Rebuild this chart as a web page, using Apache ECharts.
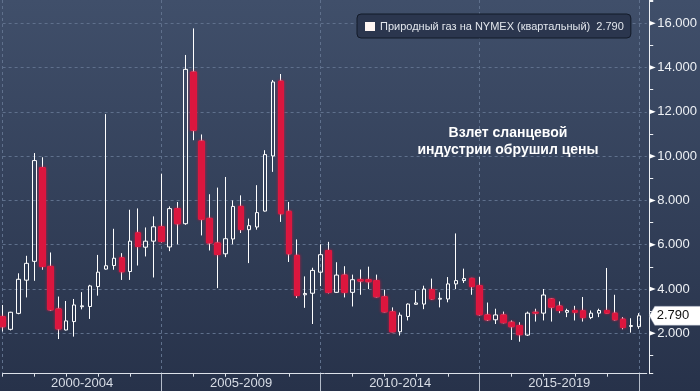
<!DOCTYPE html>
<html><head><meta charset="utf-8">
<script src="https://cdn.jsdelivr.net/npm/echarts@6/dist/echarts.min.js"></script>
<style>html,body{margin:0;padding:0;}#c{width:700px;height:391px;background:linear-gradient(to bottom,#404f6a 0%,#27324a 100%);}</style>
</head><body><div id="c"></div><script>
const categories = ['1999 Q4',
 '2000 Q1','2000 Q2','2000 Q3','2000 Q4','2001 Q1','2001 Q2','2001 Q3','2001 Q4',
 '2002 Q1','2002 Q2','2002 Q3','2002 Q4','2003 Q1','2003 Q2','2003 Q3','2003 Q4',
 '2004 Q1','2004 Q2','2004 Q3','2004 Q4','2005 Q1','2005 Q2','2005 Q3','2005 Q4',
 '2006 Q1','2006 Q2','2006 Q3','2006 Q4','2007 Q1','2007 Q2','2007 Q3','2007 Q4',
 '2008 Q1','2008 Q2','2008 Q3','2008 Q4','2009 Q1','2009 Q2','2009 Q3','2009 Q4',
 '2010 Q1','2010 Q2','2010 Q3','2010 Q4','2011 Q1','2011 Q2','2011 Q3','2011 Q4',
 '2012 Q1','2012 Q2','2012 Q3','2012 Q4','2013 Q1','2013 Q2','2013 Q3','2013 Q4',
 '2014 Q1','2014 Q2','2014 Q3','2014 Q4','2015 Q1','2015 Q2','2015 Q3','2015 Q4',
 '2016 Q1','2016 Q2','2016 Q3','2016 Q4','2017 Q1','2017 Q2','2017 Q3','2017 Q4',
 '2018 Q1','2018 Q2','2018 Q3','2018 Q4','2019 Q1','2019 Q2','2019 Q3','2019 Q4',
 '2020 Q1'];
const openP  = [2.75,2.18,2.90,4.40,5.25,9.48,5.02,3.10,2.15,2.53,3.20,3.21,4.11,4.90,5.06,5.41,4.79,6.54,5.89,6.16,
                6.81,5.90,7.63,6.95,13.80,10.68,7.19,6.08,5.59,6.26,7.73,6.68,6.80,7.52,10.01,13.39,7.51,5.52,3.74,3.81,
                4.76,5.74,3.85,4.63,3.85,4.42,4.42,4.38,3.65,2.97,2.07,2.76,3.31,3.32,3.97,3.54,3.55,4.23,4.38,4.48,
                4.15,2.83,2.61,2.83,2.50,2.35,1.92,2.95,2.91,3.55,3.23,2.95,3.03,3.02,2.71,2.91,3.03,2.91,2.64,2.31,2.30];
const closeP = [2.30,2.95,4.44,5.16,9.80,5.02,3.06,2.20,2.56,3.28,3.24,4.14,4.76,5.05,5.39,4.78,6.16,5.92,6.16,6.81,
                6.15,7.63,6.95,13.92,11.17,7.15,6.08,5.56,6.27,7.73,6.69,6.86,7.45,10.07,13.35,7.40,5.59,3.71,3.80,4.84,
                5.55,3.85,4.63,3.85,4.42,4.36,4.33,3.65,2.97,2.07,2.82,3.32,3.37,4.00,3.55,3.58,4.23,4.38,4.47,4.11,
                2.84,2.61,2.83,2.48,2.30,1.94,2.91,2.91,3.73,3.18,3.03,3.03,2.95,2.71,2.91,3.03,2.91,2.61,2.26,2.35,2.79];
const lowP   = [2.08,2.13,2.86,3.62,4.37,4.87,3.02,1.74,2.13,1.85,3.08,2.65,3.70,4.88,4.87,4.41,4.41,5.06,5.47,4.52,
                6.10,5.71,6.02,6.90,10.72,6.42,5.74,4.04,5.44,6.02,6.53,5.17,6.68,7.50,9.29,7.03,5.22,3.59,3.15,2.42,
                4.13,3.80,3.83,3.62,3.21,3.74,4.00,3.62,2.95,2.05,1.90,2.58,3.30,3.09,3.52,3.17,3.40,4.00,4.27,3.74,
                2.80,2.56,2.42,2.45,1.70,1.62,1.88,2.53,2.58,2.53,2.91,2.73,2.58,2.53,2.64,2.73,2.89,2.58,2.18,2.03,2.20];
const highP  = [3.28,2.97,4.71,5.50,10.14,9.95,5.65,3.66,3.46,3.55,3.86,4.19,5.54,11.90,6.72,5.62,7.58,7.64,6.78,7.28,
                9.21,7.73,7.93,14.57,15.77,10.98,8.28,8.58,9.06,8.00,8.23,7.18,8.69,10.27,13.44,13.71,7.93,6.24,4.57,4.96,
                6.02,6.13,5.21,5.03,4.65,4.88,5.01,4.65,3.97,3.17,2.94,3.35,3.92,4.15,4.47,3.85,4.54,6.51,4.92,4.50,
                4.54,3.39,3.11,2.98,2.58,2.50,2.98,3.11,4.00,3.58,3.44,3.11,3.24,3.64,3.03,3.11,4.95,3.74,2.73,2.68,2.91];
const yTicks = [2,4,6,8,10,12,14,16];
const groupLabels = ['2000-2004','2005-2009','2010-2014','2015-2019'];
const seriesName = 'Природный газ на NYMEX (квартальный)';
const noteLines = ['Взлет сланцевой','индустрии обрушил цены'];

const RED = '#dc173f';
const FONT = '"Liberation Sans", Arial, sans-serif';
const lastClose = closeP[closeP.length - 1];
const EMPTY = ['-','-','-','-'];
const allData = categories.map((c, i) => i < openP.length ? [openP[i], closeP[i], lowP[i], highP[i]] : EMPTY);
const downData = categories.map((c, i) => (i < openP.length && closeP[i] < openP[i]) ? [openP[i], closeP[i], closeP[i], openP[i]] : EMPTY);

const chart = echarts.init(document.getElementById('c'), null, {renderer: 'canvas'});
const Y_OFFSET = 2.5;
chart.setOption({
  animation: false,
  backgroundColor: 'transparent',
  grid: {left: 2.6, right: 53.04, top: 0, bottom: 17.31, containLabel: false},
  legend: {
    left: 357, top: 14, padding: [7, 7, 6, 8], itemWidth: 10, itemHeight: 9,
    backgroundColor: '#2b364e', borderColor: '#131a28', borderWidth: 1, borderRadius: 4,
    selectedMode: false,
    data: [{name: seriesName, icon: 'rect', itemStyle: {color: '#fff6f3', borderWidth: 0}}],
    textStyle: {color: '#e2e6ec', fontSize: 11, fontFamily: FONT},
    formatter: n => n + '  ' + lastClose.toFixed(3)
  },
  xAxis: [{
    type: 'category', data: categories, boundaryGap: false,
    axisLine: {show: true, onZero: false, lineStyle: {color: '#dde2ea', width: 1}},
    axisTick: {show: true, length: 3, interval: i => i % 4 === 0, lineStyle: {color: '#dde2ea'}},
    axisLabel: {show: true, interval: i => i % 20 === 10, margin: 3, color: '#d8dde6', fontSize: 13, fontFamily: FONT,
      formatter: (v, i) => groupLabels[(i - 10) / 20] || ''},
    splitLine: {show: true, interval: i => i % 20 === 0, lineStyle: {color: '#5f708c', type: [3, 3], width: 1}}
  }, {
    type: 'category', data: categories, boundaryGap: false, position: 'bottom',
    axisLine: {show: false},
    axisTick: {show: true, length: 18, interval: i => i % 20 === 0 && i > 0, lineStyle: {color: '#b4bcc9'}},
    axisLabel: {show: false}, splitLine: {show: false}
  }],
  yAxis: {
    type: 'value', position: 'right', min: 0.176, max: 17.052, minInterval: 2, maxInterval: 2, splitNumber: 8,
    offset: Y_OFFSET,
    axisLine: {show: true, lineStyle: {color: '#eef1f5', width: 1}},
    axisTick: {show: true, length: 4, lineStyle: {color: '#eef1f5'}},
    minorTick: {show: true, splitNumber: 2, length: 4, lineStyle: {color: '#eef1f5'}},
    axisLabel: {margin: 8, color: '#eef1f5', fontSize: 13, fontFamily: FONT, showMinLabel: false, showMaxLabel: false,
      formatter: v => yTicks.indexOf(v) >= 0 ? v.toFixed(3) : ''},
    splitLine: {show: true, showMinLine: false, showMaxLine: false, lineStyle: {color: '#5f708c', type: [3, 3], width: 1}}
  },
  series: [{
    name: seriesName, type: 'candlestick', data: allData, barWidth: 4, clip: false,
    itemStyle: {color: 'transparent', color0: RED, borderColor: '#ffffff', borderColor0: '#ffffff', borderWidth: 1}
  }, {
    name: 'down', type: 'candlestick', data: downData, barWidth: 6, clip: false,
    itemStyle: {color: RED, color0: RED, borderColor: RED, borderColor0: RED, borderWidth: 1,
      shadowBlur: 3, shadowColor: 'rgba(220,23,63,0.7)'}
  }]
});

// axis triangle markers, price tag and annotation (positions from the library's scales)
const gridRight = chart.convertToPixel({xAxisIndex: 0}, categories[categories.length - 1]);
const axisX = gridRight + Y_OFFSET;
const gfx = [];
yTicks.forEach(v => {
  const y = chart.convertToPixel({yAxisIndex: 0}, v);
  gfx.push({type: 'polygon', shape: {points: [[axisX, y - 2.5], [axisX + 6.5, y], [axisX, y + 2.5]]},
    style: {fill: '#ffffff'}, z: 10});
});
const ty = chart.convertToPixel({yAxisIndex: 0}, lastClose);
gfx.push({type: 'polygon', shape: {points: [[axisX, ty], [axisX + 5.5, ty - 9.5], [702, ty - 9.5], [702, ty + 9.5], [axisX + 5.5, ty + 9.5]]},
  style: {fill: '#ffffff', stroke: '#9aa3b2', lineWidth: 0.5}, z: 20});
gfx.push({type: 'text', x: axisX + 7.5, y: ty, z: 21,
  style: {text: lastClose.toFixed(3), fill: '#111111', font: '13px ' + FONT, align: 'left', verticalAlign: 'middle'}});
gfx.push({type: 'text', x: 508, y: 141.5, z: 21,
  style: {text: noteLines.join('\n'), fill: '#ffffff', font: 'bold 14px ' + FONT, align: 'center', verticalAlign: 'middle', lineHeight: 17}});
chart.setOption({graphic: gfx});
</script></body></html>
